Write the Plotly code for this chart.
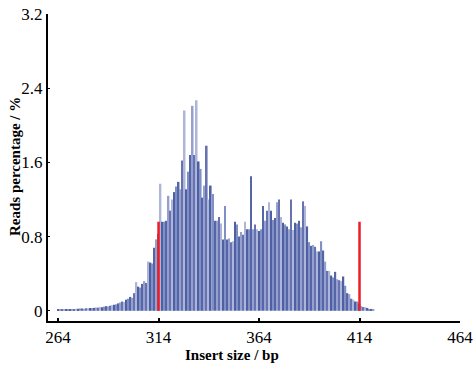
import plotly.graph_objects as go

# Insert size (bp) and reads percentage (%)
insert_start = 264
reads_pct = [
    0.010, 0.012, 0.015, 0.014, 0.016, 0.018, 0.017, 0.020, 0.020, 0.022,  # 264-273
    0.021, 0.024, 0.025, 0.023, 0.027, 0.028, 0.030, 0.029, 0.032, 0.035,  # 274-283
    0.034, 0.040, 0.038, 0.045, 0.050, 0.048, 0.055, 0.060, 0.065, 0.070,  # 284-293
    0.080, 0.090, 0.100, 0.095, 0.120, 0.130, 0.150, 0.140, 0.190, 0.310,  # 294-303
    0.260, 0.250, 0.290, 0.320, 0.300, 0.530, 0.520, 0.510, 0.680, 0.770,  # 304-313
    0.830, 1.370, 0.960, 0.960, 0.970, 1.240, 1.080, 1.200, 1.280, 1.340,  # 314-323
    1.390, 1.310, 1.620, 2.160, 1.310, 1.500, 1.680, 2.210, 1.680, 2.270,  # 324-333
    1.610, 1.530, 1.220, 1.350, 1.780, 1.200, 1.350, 1.260, 0.970, 0.970,  # 334-343
    1.010, 0.940, 0.770, 1.130, 0.770, 0.780, 0.740, 0.750, 0.960, 0.930,  # 344-353
    0.800, 0.850, 0.820, 0.960, 0.880, 0.880, 1.450, 0.880, 0.930, 0.880,  # 354-363
    0.860, 0.880, 1.130, 0.970, 1.080, 1.170, 1.080, 0.980, 1.000, 1.170,  # 364-373
    1.200, 1.010, 0.950, 0.930, 0.910, 0.880, 1.200, 0.870, 0.950, 0.940,  # 374-383
    0.970, 0.900, 1.180, 1.130, 0.910, 0.740, 0.700, 0.710, 0.690, 0.640,  # 384-393
    0.640, 0.750, 0.650, 0.530, 0.430, 0.430, 0.380, 0.360, 0.420, 0.340,  # 394-403
    0.330, 0.320, 0.370, 0.270, 0.190, 0.180, 0.130, 0.120, 0.100, 0.100,  # 404-413
    0.080, 0.050, 0.040, 0.040, 0.030, 0.020, 0.020, 0.010,                # 414-421
]
insert_sizes = [insert_start + i for i in range(len(reads_pct))]

# Red cut-off markers
cutoff_positions = [314, 414]
cutoff_height = 0.96

x_ticks = [264, 314, 364, 414, 464]
y_ticks = [0, 0.8, 1.6, 2.4, 3.2]
y_tick_labels = ["0", "0.8", "1.6", "2.4", "3.2"]

shades = ["#5565a8", "#95a0cf", "#6673b0", "#adb5d8", "#4f5fa3", "#8090c4"]
bar_colors = [shades[i % len(shades)] for i in range(len(reads_pct))]

fig = go.Figure()
fig.add_trace(go.Bar(
    x=insert_sizes, y=reads_pct,
    marker=dict(color=bar_colors, line=dict(width=0)),
    width=0.8,
    showlegend=False,
))
for xc in cutoff_positions:
    fig.add_trace(go.Scatter(
        x=[xc, xc], y=[0, cutoff_height], mode="lines",
        line=dict(color="#ee1c24", width=2.5), showlegend=False,
    ))

serif = "Liberation Serif"
fig.update_layout(
    width=476, height=365,
    margin=dict(l=48, r=16, t=14, b=44),
    paper_bgcolor="white", plot_bgcolor="white",
    font=dict(family=serif, size=17, color="black"),
    bargap=0.2,
    xaxis=dict(
        range=[259, 464], tickvals=x_ticks, ticktext=[str(v) for v in x_ticks],
        showline=True, linecolor="black", linewidth=2,
        ticks="inside", ticklen=3, tickwidth=2, tickcolor="black",
        showgrid=False, zeroline=False, automargin=False,
        tickfont=dict(family=serif, size=17),
    ),
    yaxis=dict(
        range=[-0.11, 3.2], tickvals=y_ticks, ticktext=y_tick_labels,
        showline=True, linecolor="black", linewidth=2,
        ticks="inside", ticklen=2, tickwidth=1, tickcolor="black",
        showgrid=False, zeroline=False, automargin=False,
        tickfont=dict(family=serif, size=17),
    ),
    annotations=[
        dict(text="<b>Insert size / bp</b>", xref="paper", yref="paper",
             x=(232 - 48) / 412, y=-(355 - 321) / 307, xanchor="center", yanchor="middle",
             showarrow=False, font=dict(family=serif, size=15)),
        dict(text="<b>Reads percentage / %</b>", xref="paper", yref="paper",
             x=-(48 - 15) / 412, y=(321 - 167) / 307, xanchor="center", yanchor="middle",
             textangle=-90, showarrow=False, font=dict(family=serif, size=15)),
    ],
)

fig.write_html(
    "out.html",
    config={"displayModeBar": False},
    post_script="document.body.style.margin='0';document.body.style.overflow='hidden';",
)
